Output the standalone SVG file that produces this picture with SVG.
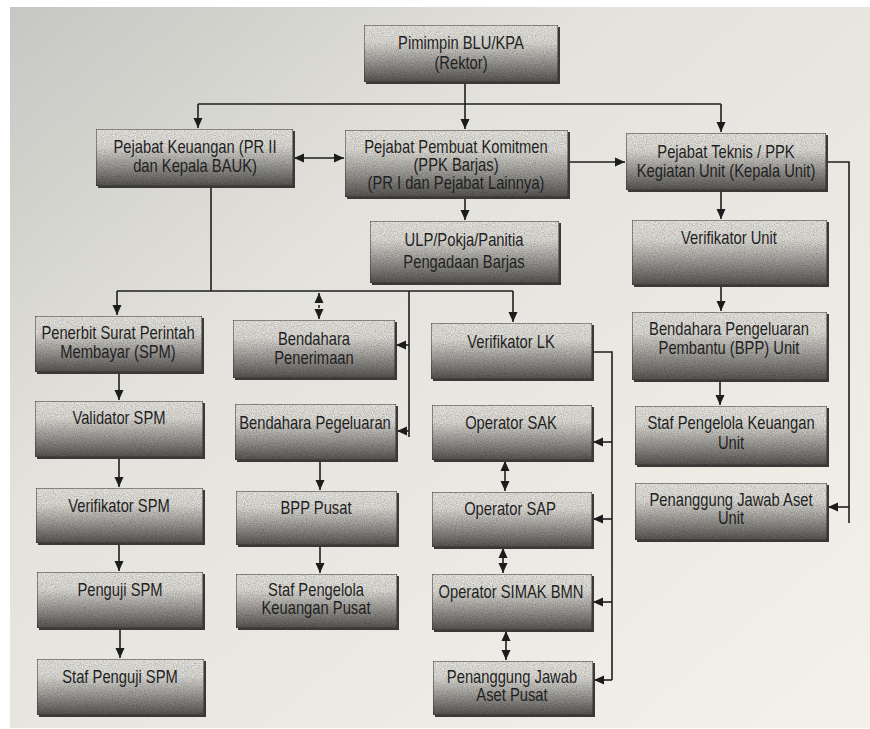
<svg xmlns="http://www.w3.org/2000/svg" width="870" height="729" viewBox="0 0 870 729">
<defs>
<linearGradient id="bg" x1="0" y1="0" x2="1" y2="1">
<stop offset="0" stop-color="#c6c7c3"/>
<stop offset="0.35" stop-color="#e4e2dc"/>
<stop offset="1" stop-color="#f3f1ea"/>
</linearGradient>
<linearGradient id="boxg" x1="0" y1="0" x2="0" y2="1">
<stop offset="0" stop-color="#f4f2ec"/>
<stop offset="0.3" stop-color="#ebe9e3"/>
<stop offset="0.6" stop-color="#aeaca7"/>
<stop offset="1" stop-color="#5a5855"/>
</linearGradient>
<filter id="grain" x="0" y="0" width="100%" height="100%">
<feTurbulence type="fractalNoise" baseFrequency="0.9" numOctaves="2" seed="5" result="noise"/>
<feColorMatrix in="noise" type="matrix" values="0.7 0 0 0 0.4  0.7 0 0 0 0.4  0.7 0 0 0 0.4  0 0 0 0 1" result="gn"/>
<feBlend in="SourceGraphic" in2="gn" mode="multiply" result="b"/>
<feComposite in="b" in2="SourceGraphic" operator="in"/>
</filter>
<marker id="ah" markerWidth="11" markerHeight="10" refX="10" refY="5" orient="auto-start-reverse" markerUnits="userSpaceOnUse">
<path d="M0,0.5 L10,5 L0,9.5 z" fill="#1c1c1c"/>
</marker>
<style>
.sh{fill:#3a3937}
.bx{fill:url(#boxg);stroke:#3c3b39;stroke-width:1;filter:url(#grain)}
.t{font-family:"Liberation Sans",Arial,sans-serif;font-size:18px;fill:#1f1f1f;text-anchor:middle}
.c{fill:none;stroke:#1e1e1e;stroke-width:1.6}
.a{marker-end:url(#ah)}
.b{marker-start:url(#ah);marker-end:url(#ah)}
</style>
</defs>
<rect width="870" height="729" fill="#ffffff"/>
<rect x="10" y="7" width="860" height="721" fill="url(#bg)"/>

<g id="connectors">
<path class="c a" d="M465,82 V129"/>
<path class="c" d="M198,104 H721"/>
<path class="c a" d="M198,104 V128"/>
<path class="c a" d="M721,104 V132"/>
<path class="c b" d="M294,158 H344"/>
<path class="c a" d="M568,162 H625"/>
<path class="c a" d="M465,197 V220"/>
<path class="c a" d="M721,190 V219"/>
<path class="c a" d="M721,285 V311"/>
<path class="c a" d="M720,380 V405"/>
<path class="c" d="M826,162 H849 V523"/>
<path class="c a" d="M849,507 H828"/>
<path class="c" d="M211,186 V291"/>
<path class="c" d="M117,291 H513"/>
<path class="c a" d="M117,291 V315"/>
<path class="c a" d="M513,291 V322"/>
<path class="c" d="M409,291 V437"/>
<path class="c a" d="M409,345 H396"/>
<path class="c a" d="M409,431 H397"/>
<path class="c b" d="M319,293 V319" stroke-dasharray="3,3"/>
<path class="c a" d="M119,372 V400"/>
<path class="c a" d="M119,457 V487"/>
<path class="c a" d="M119,543 V571"/>
<path class="c a" d="M120,628 V658"/>
<path class="c a" d="M320,460 V490"/>
<path class="c a" d="M320,545 V573"/>
<path class="c" d="M592,352 H612 V680"/>
<path class="c a" d="M612,442 H593"/>
<path class="c a" d="M612,519 H593"/>
<path class="c a" d="M612,602 H593"/>
<path class="c a" d="M612,680 H594"/>
<path class="c b" d="M505,461 V491"/>
<path class="c b" d="M503,548 V573"/>
<path class="c b" d="M506,631 V660"/>
</g>

<g id="pimpinan"><rect class="sh" x="366" y="27" width="194" height="57"/><rect class="bx" x="364" y="25" width="194" height="57"/><text class="t" transform="matrix(0.82,0,0,1,461,0)" x="0" y="49">Pimimpin BLU/KPA</text><text class="t" transform="matrix(0.82,0,0,1,461,0)" x="0" y="69">(Rektor)</text></g>
<g id="pejabat-keuangan"><rect class="sh" x="98" y="131" width="197" height="57"/><rect class="bx" x="96" y="129" width="197" height="57"/><text class="t" transform="matrix(0.82,0,0,1,195,0)" x="0" y="153">Pejabat Keuangan (PR II</text><text class="t" transform="matrix(0.82,0,0,1,195,0)" x="0" y="172">dan Kepala BAUK)</text></g>
<g id="ppk-barjas"><rect class="sh" x="347" y="132" width="223" height="67"/><rect class="bx" x="345" y="130" width="223" height="67"/><text class="t" transform="matrix(0.82,0,0,1,456,0)" x="0" y="153">Pejabat Pembuat Komitmen</text><text class="t" transform="matrix(0.82,0,0,1,456,0)" x="0" y="171">(PPK Barjas)</text><text class="t" transform="matrix(0.82,0,0,1,456,0)" x="0" y="189">(PR I dan Pejabat Lainnya)</text></g>
<g id="pejabat-teknis"><rect class="sh" x="628" y="135" width="200" height="57"/><rect class="bx" x="626" y="133" width="200" height="57"/><text class="t" transform="matrix(0.82,0,0,1,726,0)" x="0" y="158">Pejabat Teknis / PPK</text><text class="t" transform="matrix(0.82,0,0,1,726,0)" x="0" y="177">Kegiatan Unit (Kepala Unit)</text></g>
<g id="ulp"><rect class="sh" x="372" y="223" width="189" height="62"/><rect class="bx" x="370" y="221" width="189" height="62"/><text class="t" transform="matrix(0.82,0,0,1,464,0)" x="0" y="246">ULP/Pokja/Panitia</text><text class="t" transform="matrix(0.82,0,0,1,464,0)" x="0" y="268">Pengadaan Barjas</text></g>
<g id="verifikator-unit"><rect class="sh" x="634" y="222" width="195" height="65"/><rect class="bx" x="632" y="220" width="195" height="65"/><text class="t" transform="matrix(0.82,0,0,1,729,0)" x="0" y="244">Verifikator Unit</text></g>
<g id="bpp-unit"><rect class="sh" x="634" y="314" width="195" height="68"/><rect class="bx" x="632" y="312" width="195" height="68"/><text class="t" transform="matrix(0.82,0,0,1,729,0)" x="0" y="335">Bendahara Pengeluaran</text><text class="t" transform="matrix(0.82,0,0,1,729,0)" x="0" y="354">Pembantu (BPP) Unit</text></g>
<g id="staf-unit"><rect class="sh" x="637" y="408" width="192" height="59"/><rect class="bx" x="635" y="406" width="192" height="59"/><text class="t" transform="matrix(0.82,0,0,1,731,0)" x="0" y="429">Staf Pengelola Keuangan</text><text class="t" transform="matrix(0.82,0,0,1,731,0)" x="0" y="449">Unit</text></g>
<g id="pja-unit"><rect class="sh" x="637" y="485" width="192" height="57"/><rect class="bx" x="635" y="483" width="192" height="57"/><text class="t" transform="matrix(0.82,0,0,1,731,0)" x="0" y="506">Penanggung Jawab Aset</text><text class="t" transform="matrix(0.82,0,0,1,731,0)" x="0" y="524">Unit</text></g>
<g id="penerbit-spm"><rect class="sh" x="37" y="318" width="167" height="56"/><rect class="bx" x="35" y="316" width="167" height="56"/><text class="t" transform="matrix(0.82,0,0,1,118,0)" x="0" y="339">Penerbit Surat Perintah</text><text class="t" transform="matrix(0.82,0,0,1,118,0)" x="0" y="358">Membayar (SPM)</text></g>
<g id="validator-spm"><rect class="sh" x="37" y="403" width="168" height="56"/><rect class="bx" x="35" y="401" width="168" height="56"/><text class="t" transform="matrix(0.82,0,0,1,119,0)" x="0" y="424">Validator SPM</text></g>
<g id="verifikator-spm"><rect class="sh" x="38" y="490" width="167" height="55"/><rect class="bx" x="36" y="488" width="167" height="55"/><text class="t" transform="matrix(0.82,0,0,1,119,0)" x="0" y="512">Verifikator SPM</text></g>
<g id="penguji-spm"><rect class="sh" x="39" y="574" width="166" height="56"/><rect class="bx" x="37" y="572" width="166" height="56"/><text class="t" transform="matrix(0.82,0,0,1,120,0)" x="0" y="596">Penguji SPM</text></g>
<g id="staf-penguji-spm"><rect class="sh" x="39" y="661" width="167" height="56"/><rect class="bx" x="37" y="659" width="167" height="56"/><text class="t" transform="matrix(0.82,0,0,1,120,0)" x="0" y="683">Staf Penguji SPM</text></g>
<g id="bendahara-penerimaan"><rect class="sh" x="235" y="322" width="162" height="58"/><rect class="bx" x="233" y="320" width="162" height="58"/><text class="t" transform="matrix(0.82,0,0,1,314,0)" x="0" y="345">Bendahara</text><text class="t" transform="matrix(0.82,0,0,1,314,0)" x="0" y="364">Penerimaan</text></g>
<g id="bendahara-pegeluaran"><rect class="sh" x="237" y="406" width="161" height="56"/><rect class="bx" x="235" y="404" width="161" height="56"/><text class="t" transform="matrix(0.82,0,0,1,315,0)" x="0" y="429">Bendahara Pegeluaran</text></g>
<g id="bpp-pusat"><rect class="sh" x="238" y="493" width="161" height="54"/><rect class="bx" x="236" y="491" width="161" height="54"/><text class="t" transform="matrix(0.82,0,0,1,316,0)" x="0" y="514">BPP Pusat</text></g>
<g id="staf-pusat"><rect class="sh" x="238" y="576" width="161" height="54"/><rect class="bx" x="236" y="574" width="161" height="54"/><text class="t" transform="matrix(0.82,0,0,1,316,0)" x="0" y="596">Staf Pengelola</text><text class="t" transform="matrix(0.82,0,0,1,316,0)" x="0" y="614">Keuangan Pusat</text></g>
<g id="verifikator-lk"><rect class="sh" x="433" y="325" width="161" height="56"/><rect class="bx" x="431" y="323" width="161" height="56"/><text class="t" transform="matrix(0.82,0,0,1,511,0)" x="0" y="348">Verifikator LK</text></g>
<g id="operator-sak"><rect class="sh" x="434" y="407" width="160" height="55"/><rect class="bx" x="432" y="405" width="160" height="55"/><text class="t" transform="matrix(0.82,0,0,1,511,0)" x="0" y="429">Operator SAK</text></g>
<g id="operator-sap"><rect class="sh" x="434" y="494" width="160" height="55"/><rect class="bx" x="432" y="492" width="160" height="55"/><text class="t" transform="matrix(0.82,0,0,1,510,0)" x="0" y="515">Operator SAP</text></g>
<g id="operator-simak"><rect class="sh" x="434" y="576" width="160" height="56"/><rect class="bx" x="432" y="574" width="160" height="56"/><text class="t" transform="matrix(0.82,0,0,1,511,0)" x="0" y="598">Operator SIMAK BMN</text></g>
<g id="pja-pusat"><rect class="sh" x="435" y="663" width="160" height="54"/><rect class="bx" x="433" y="661" width="160" height="54"/><text class="t" transform="matrix(0.82,0,0,1,512,0)" x="0" y="683">Penanggung Jawab</text><text class="t" transform="matrix(0.82,0,0,1,512,0)" x="0" y="701">Aset Pusat</text></g>
</svg>
